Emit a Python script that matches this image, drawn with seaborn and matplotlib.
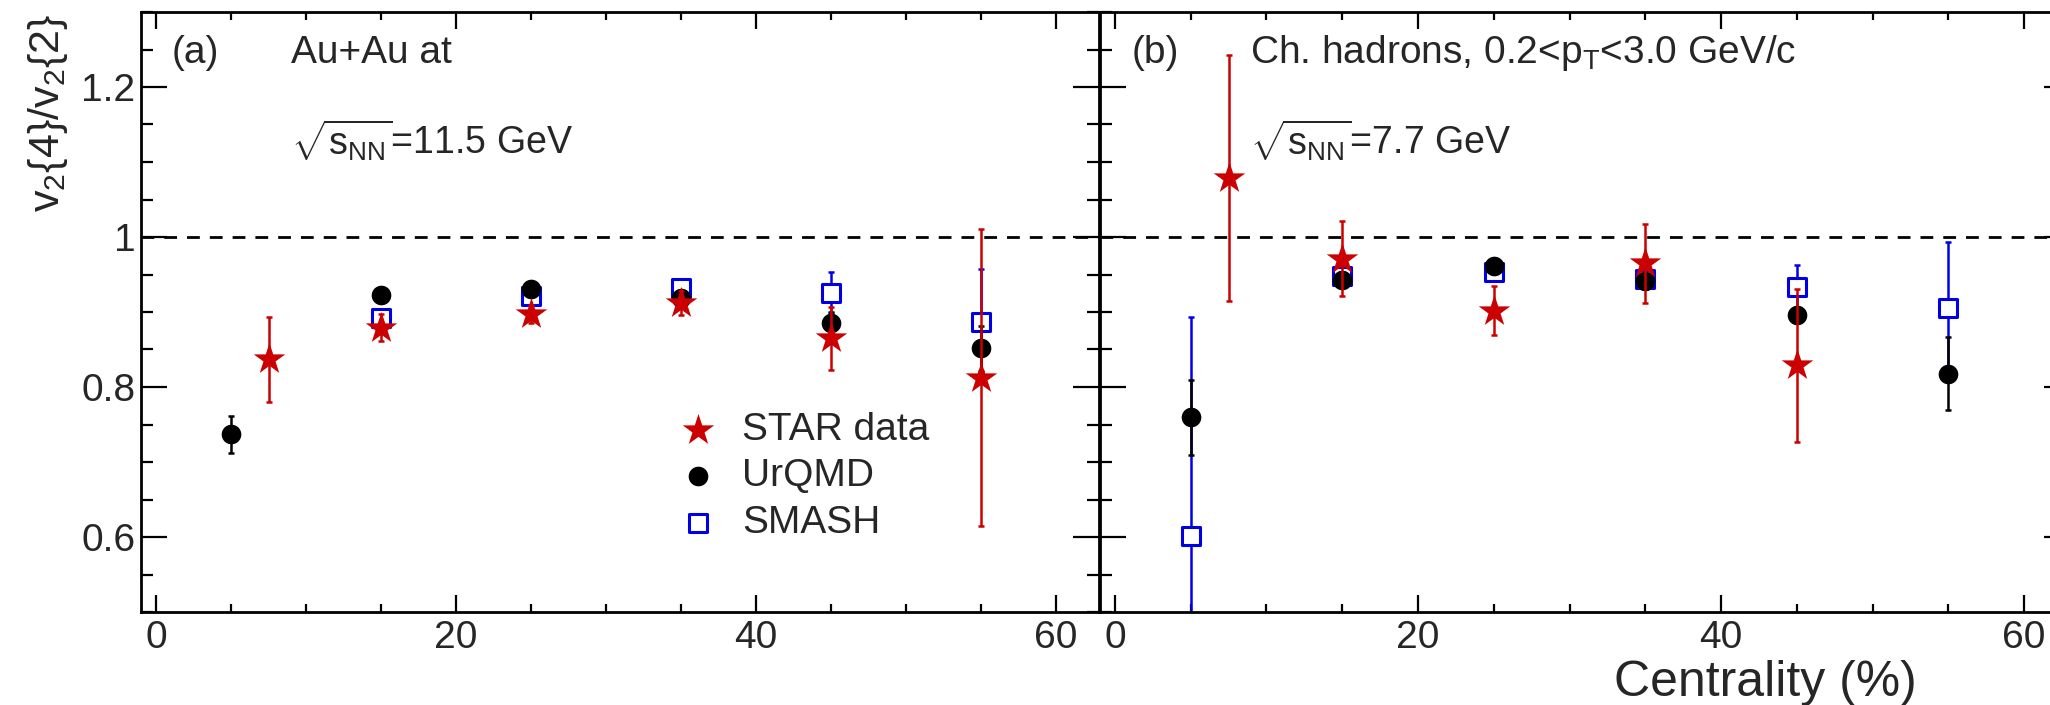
import numpy as np
import pandas as pd
import matplotlib
matplotlib.use("Agg")
import matplotlib.pyplot as plt
import seaborn as sns
from matplotlib.ticker import MultipleLocator, FuncFormatter

# ---------------- data ----------------
# panel (a): Au+Au 11.5 GeV
star_a_x = [7.5, 15, 25, 35, 45, 55]
star_a_y = [0.837, 0.879, 0.897, 0.912, 0.865, 0.8125]
star_a_err = [0.057, 0.018, 0.012, 0.016, 0.042, 0.198]

urqmd_a_x = [5, 15, 25, 35, 45, 55]
urqmd_a_y = [0.737, 0.923, 0.931, 0.919, 0.885, 0.852]
urqmd_a_err = [0.025, 0.008, 0.006, 0.008, 0.015, 0.03]

smash_a_x = [15, 25, 35, 45, 55]
smash_a_y = [0.892, 0.922, 0.932, 0.926, 0.887]
smash_a_err = [0.01, 0.008, 0.008, 0.027, 0.07]

# panel (b): Au+Au 7.7 GeV
star_b_x = [7.5, 15, 25, 35, 45]
star_b_y = [1.079, 0.971, 0.902, 0.965, 0.829]
star_b_err = [0.164, 0.05, 0.033, 0.053, 0.102]

urqmd_b_x = [5, 15, 25, 35, 45, 55]
urqmd_b_y = [0.760, 0.943, 0.961, 0.941, 0.8965, 0.818]
urqmd_b_err = [0.05, 0.01, 0.006, 0.01, 0.01, 0.049]

smash_b_x = [5, 15, 25, 35, 45, 55]
smash_b_y = [0.601, 0.948, 0.954, 0.944, 0.934, 0.906]
smash_b_err = [0.292, 0.01, 0.008, 0.008, 0.029, 0.087]

legend_labels = ["STAR data", "UrQMD", "SMASH"]
y_ticks = [0.6, 0.8, 1.0, 1.2]
x_ticks = [0, 20, 40, 60]

# ---------------- style ----------------
sns.set_style("ticks")
plt.rcParams["font.family"] = ["Liberation Sans", "DejaVu Sans"]
plt.rcParams["mathtext.fontset"] = "custom"
plt.rcParams["mathtext.rm"] = "Liberation Sans"
plt.rcParams["mathtext.it"] = "Liberation Sans:italic"
plt.rcParams["mathtext.bf"] = "Liberation Sans:bold"
plt.rcParams["mathtext.sf"] = "Liberation Sans"

RED = "#cc0000"
BLUE = "#0000e6"
BLACK = "#000000"
FS = 28

W, H = 2050, 705
fig = plt.figure(figsize=(W / 100, H / 100), dpi=100)
fig.patch.set_facecolor("white")

axa = fig.add_axes([140.7 / W, 1 - 612 / H, (1099.5 - 140.7) / W, 600 / H])
axb = fig.add_axes([1099.5 / W, 1 - 612 / H, 970 / W, 600 / H])


def draw(ax, x, y, err, color, marker, size, z, label, face=None, lw=0.0):
    ax.errorbar(x, y, yerr=err, fmt="none", ecolor=color, elinewidth=1.8,
                capsize=2.5, capthick=1.8, zorder=z)
    df = pd.DataFrame({"c": x, "v": y})
    sns.scatterplot(data=df, x="c", y="v", ax=ax, marker=marker, s=size,
                    color=face if face is not None else color,
                    edgecolor=color, linewidth=lw, zorder=z + 0.5,
                    label=label, legend=False)


STAR_S, DOT_S, SQ_S = 570, 200, 180

draw(axa, smash_a_x, smash_a_y, smash_a_err, BLUE, "s", SQ_S, 2, "SMASH", face="white", lw=2.2)
draw(axa, urqmd_a_x, urqmd_a_y, urqmd_a_err, BLACK, "o", DOT_S, 4, "UrQMD")
draw(axa, star_a_x, star_a_y, star_a_err, RED, "*", STAR_S, 6, "STAR data")

draw(axb, smash_b_x, smash_b_y, smash_b_err, BLUE, "s", SQ_S, 2, "SMASH", face="white", lw=2.2)
draw(axb, urqmd_b_x, urqmd_b_y, urqmd_b_err, BLACK, "o", DOT_S, 4, "UrQMD")
draw(axb, star_b_x, star_b_y, star_b_err, RED, "*", STAR_S, 6, "STAR data")

for ax, xl in ((axa, (-1.03, 62.9)), (axb, (-1.02, 63.0))):
    ax.axhline(1.0, color=BLACK, lw=2.0, ls=(0, (4.6, 3.6)), zorder=1.5)
    ax.set_xlim(*xl)
    ax.set_ylim(0.5, 1.3)
    ax.set_xlabel("")
    ax.set_ylabel("")
    ax.xaxis.set_major_locator(MultipleLocator(20))
    ax.xaxis.set_minor_locator(MultipleLocator(5))
    ax.yaxis.set_major_locator(MultipleLocator(0.2))
    ax.yaxis.set_minor_locator(MultipleLocator(0.05))
    ax.yaxis.set_major_formatter(FuncFormatter(lambda v, p: f"{round(v, 2):g}"))
    ax.xaxis.set_major_formatter(FuncFormatter(lambda v, p: f"{round(v):d}"))
    ax.tick_params(axis="both", which="both", direction="in", top=True, right=True,
                   labelsize=FS, width=1.6, color=BLACK)
    ax.tick_params(axis="y", which="major", length=18.7, pad=4)
    ax.tick_params(axis="y", which="minor", length=8.6)
    ax.tick_params(axis="x", which="major", length=12.2, pad=6)
    ax.tick_params(axis="x", which="minor", length=5.8)
    for sp in ax.spines.values():
        sp.set_linewidth(2.0)
        sp.set_color(BLACK)
    ax.set_facecolor("white")

axb.tick_params(axis="y", labelleft=False)

# legend
handles, labels = axa.get_legend_handles_labels()
hmap = dict(zip(labels, handles))
fs_px = FS * 100 / 72
leg = axa.legend([hmap[l] for l in legend_labels], legend_labels,
                 loc="upper left",
                 bbox_to_anchor=((698 - 0.5 * fs_px) / W, 1 - 412 / H),
                 bbox_transform=fig.transFigure,
                 frameon=False, fontsize=FS, borderpad=0, borderaxespad=0,
                 handlelength=1.0, handletextpad=0.63, labelspacing=0.27,
                 scatterpoints=1)
leg.set_zorder(10)

# texts
def ftext(x, y, s, **kw):
    fig.text(x / W, 1 - y / H, s, **kw)

ftext(172, 63, "(a)", fontsize=FS, va="baseline", ha="left")
ftext(291, 63, "Au+Au at", fontsize=FS, va="baseline", ha="left")
ftext(291, 155, r"$\sqrt{\mathregular{s_{NN}}}$=11.5 GeV", fontsize=27, va="baseline", ha="left")
ftext(1131.6, 63, "(b)", fontsize=FS, va="baseline", ha="left")
ftext(1250, 63, r"Ch. hadrons, 0.2<p$_{\mathregular{T}}$<3.0 GeV/c", fontsize=FS, va="baseline", ha="left")
ftext(1250, 155, r"$\sqrt{\mathregular{s_{NN}}}$=7.7 GeV", fontsize=27, va="baseline", ha="left")

ftext(47.5, 13.5, r"$\mathregular{v_{2}\{4\}/v_{2}\{2\}}$", fontsize=31, rotation=90,
      ha="center", va="top")
ftext(1917, 696.5, "Centrality (%)", fontsize=36, ha="right", va="baseline")

fig.savefig("out.png", dpi=100, facecolor="white")
